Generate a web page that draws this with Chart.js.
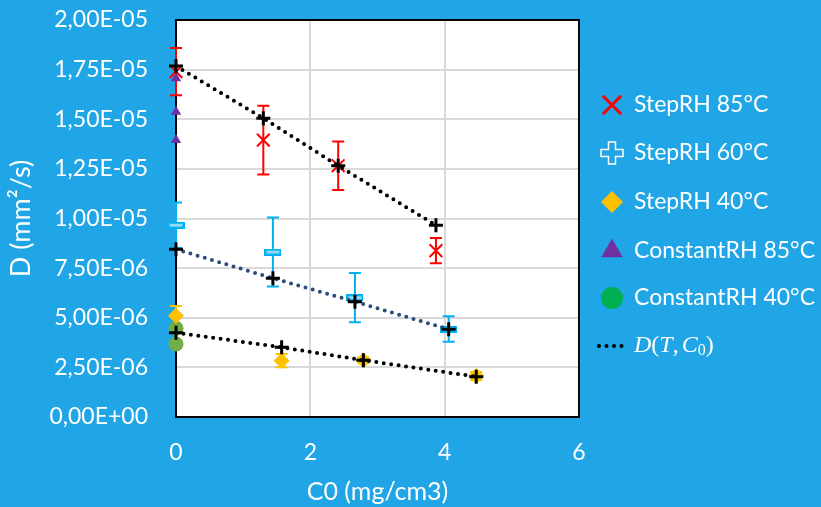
<!DOCTYPE html>
<html>
<head>
<meta charset="utf-8">
<script src="https://cdn.jsdelivr.net/npm/chart.js@4.4.1/dist/chart.umd.min.js"></script>
<style>
  html, body { margin: 0; padding: 0; background: #20a5e6; }
  #wrap { position: relative; width: 821px; height: 507px; }
</style>
</head>
<body>
<div id="wrap"><canvas id="chart"></canvas></div>
<script>
// StepRH series: C0 (mg/cm3), D (mm²/s) and its error
const c0Step85 = [0, 1.30, 2.415, 3.87]
const dStep85 = [1.74e-5, 1.395e-5, 1.266e-5, 8.38e-6]
const errStep85 = [1.19e-6, 1.73e-6, 1.22e-6, 6.4e-7]

const c0Step60 = [0, 1.443, 2.664, 4.06]
const dStep60 = [9.66e-6, 8.31e-6, 6.01e-6, 4.43e-6]
const errStep60 = [1.14e-6, 1.74e-6, 1.24e-6, 6.4e-7]

const c0Step40 = [0, 1.573, 2.79, 4.47]
const dStep40 = [5.10e-6, 2.84e-6, 2.86e-6, 2.07e-6]
const errStep40 = [4.9e-7, 3.3e-7, 1.5e-7, 2.0e-7]

// ConstantRH series (all at C0 = 0)
const c0Const85 = [0, 0, 0]
const dConst85 = [1.706e-5, 1.538e-5, 1.395e-5]
const c0Const40 = [0, 0]
const dConst40 = [4.47e-6, 3.68e-6]

// model D(T, C0)
const dFit85 = [1.768e-5, 1.505e-5, 1.266e-5, 9.66e-6]
const dFit60 = [8.45e-6, 6.99e-6, 5.81e-6, 4.42e-6]
const dFit40 = [4.25e-6, 3.51e-6, 2.86e-6, 2.03e-6]

const xTicks = [0, 2, 4, 6]
const yMax = 2e-5
const yStep = 2.5e-6

const BG = '#20a5e6'
const RED = '#ff0000'
const CYAN = '#00b0f0'
const GOLD = '#ffc000'
const PURPLE = '#7030a0'
const OLIVE = '#70ad47'
const GREEN = '#00b050'
const NAVY = '#2e4d7f'

const pts = (xs, ys) => xs.map((x, i) => ({ x, y: ys[i] }))

// "1,75E-05" style tick labels
function sciComma(v) {
  const [m, e] = Number(v).toExponential(2).split('e')
  const n = parseInt(e, 10)
  return m.replace('.', ',') + 'E' + (n < 0 ? '-' : '+') + String(Math.abs(n)).padStart(2, '0')
}

// short dash marker for the 60°C points
const dashMark = document.createElement('canvas')
dashMark.width = 17
dashMark.height = 7
{
  const d = dashMark.getContext('2d')
  d.fillStyle = '#8fd8f5'
  d.strokeStyle = CYAN
  d.lineWidth = 2
  d.fillRect(1, 1, 15, 5)
  d.strokeRect(1, 1, 15, 5)
}

const markerSet = (color, style, radius, width) => ({
  pointStyle: style,
  pointRadius: radius,
  pointHoverRadius: radius,
  pointBorderWidth: width,
  pointBackgroundColor: color,
  pointBorderColor: color,
  showLine: false,
  clip: false,
  order: 1,
})

const fitSet = (xs, ys, color) => ({
  label: 'D(T, C0)',
  data: pts(xs, ys),
  showLine: true,
  borderColor: color,
  borderWidth: 4,
  borderDash: [0, 7.5],
  borderCapStyle: 'round',
  pointStyle: 'cross',
  pointRadius: 7,
  pointHoverRadius: 7,
  pointBorderWidth: 3,
  pointBorderColor: '#000',
  pointBackgroundColor: '#000',
  clip: false,
  order: 0,
})

const panel = {
  id: 'panel',
  beforeDraw(chart) {
    const { ctx, chartArea: a } = chart
    ctx.save()
    ctx.fillStyle = BG
    ctx.fillRect(0, 0, chart.width, chart.height)
    ctx.fillStyle = '#fff'
    ctx.fillRect(a.left, a.top, a.right - a.left, a.bottom - a.top)
    ctx.restore()
  },
  beforeDatasetsDraw(chart) {
    const { ctx, chartArea: a, scales } = chart
    ctx.save()
    ctx.strokeStyle = '#000'
    ctx.lineWidth = 2
    ctx.strokeRect(a.left, a.top, a.right - a.left, a.bottom - a.top)
    // error bars under the markers
    chart.data.datasets.forEach((ds) => {
      if (!ds.errorBars) return
      ctx.strokeStyle = ds.pointBorderColor
      ctx.lineWidth = 2
      ds.data.forEach((p, i) => {
        const e = ds.errorBars[i]
        const x = scales.x.getPixelForValue(p.x)
        const y1 = scales.y.getPixelForValue(p.y + e)
        const y2 = scales.y.getPixelForValue(p.y - e)
        ctx.beginPath()
        ctx.moveTo(x, y1); ctx.lineTo(x, y2)
        ctx.moveTo(x - 6, y1); ctx.lineTo(x + 6, y1)
        ctx.moveTo(x - 6, y2); ctx.lineTo(x + 6, y2)
        ctx.stroke()
      })
    })
    ctx.restore()
  },
  afterDraw(chart) {
    const { ctx } = chart
    const draw = Chart.helpers.drawPoint
    const mx = 612, tx = 634
    const rows = [105, 153, 202, 251, 298, 346]
    ctx.save()
    ctx.textBaseline = 'middle'
    ctx.textAlign = 'left'

    ctx.strokeStyle = RED
    ctx.fillStyle = RED
    draw(ctx, { pointStyle: 'crossRot', radius: 13, borderWidth: 3, rotation: 0 }, mx, rows[0])

    // hollow plus
    const y = rows[1], a = 3.5, b = 11
    ctx.beginPath()
    ctx.moveTo(mx - a, y - b); ctx.lineTo(mx + a, y - b); ctx.lineTo(mx + a, y - a)
    ctx.lineTo(mx + b, y - a); ctx.lineTo(mx + b, y + a); ctx.lineTo(mx + a, y + a)
    ctx.lineTo(mx + a, y + b); ctx.lineTo(mx - a, y + b); ctx.lineTo(mx - a, y + a)
    ctx.lineTo(mx - b, y + a); ctx.lineTo(mx - b, y - a); ctx.lineTo(mx - a, y - a)
    ctx.closePath()
    ctx.strokeStyle = '#fff'
    ctx.lineWidth = 1.5
    ctx.stroke()

    ctx.fillStyle = GOLD
    ctx.strokeStyle = GOLD
    draw(ctx, { pointStyle: 'rectRot', radius: 11, borderWidth: 0, rotation: 0 }, mx, rows[2])
    ctx.fillStyle = PURPLE
    ctx.strokeStyle = PURPLE
    draw(ctx, { pointStyle: 'triangle', radius: 12.5, borderWidth: 0, rotation: 0 }, mx, rows[3])
    ctx.fillStyle = GREEN
    ctx.strokeStyle = GREEN
    draw(ctx, { pointStyle: 'circle', radius: 11, borderWidth: 0, rotation: 0 }, mx, rows[4])

    ctx.beginPath()
    ctx.setLineDash([0, 7.5])
    ctx.lineCap = 'round'
    ctx.lineWidth = 4
    ctx.strokeStyle = '#000'
    ctx.moveTo(599, rows[5]); ctx.lineTo(627, rows[5])
    ctx.stroke()
    ctx.setLineDash([])

    ctx.fillStyle = '#fff'
    ctx.font = '23px Lato'
    ;['StepRH 85°C', 'StepRH 60°C', 'StepRH 40°C', 'ConstantRH 85°C', 'ConstantRH 40°C']
      .forEach((t, i) => ctx.fillText(t, tx, rows[i]))

    // D(T, C0) in math italics
    const parts = [
      ['D', 'italic', 24, 0], ['(', '', 24, 0], ['T', 'italic', 24, 0], [',', '', 24, 0],
      [' ', '', 12, 0], ['C', 'italic', 24, 0], ['0', '', 16, 5], [')', '', 24, 0],
    ]
    let px = tx
    parts.forEach(([s, st, sz, dy]) => {
      ctx.font = `${st} ${sz}px "Liberation Serif"`.trim()
      ctx.fillText(s, px, rows[5] + dy)
      px += ctx.measureText(s).width
    })
    ctx.restore()
  },
}

Chart.defaults.font.family = 'Lato'
Chart.defaults.font.size = 23
Chart.defaults.color = '#fff'

new Chart(document.getElementById('chart'), {
  type: 'scatter',
  data: {
    datasets: [
      { label: 'StepRH 85°C', data: pts(c0Step85, dStep85), errorBars: errStep85, ...markerSet(RED, 'crossRot', 9, 2) },
      { label: 'StepRH 60°C', data: pts(c0Step60, dStep60), errorBars: errStep60, ...markerSet(CYAN, dashMark, 8, 2) },
      { label: 'StepRH 40°C', data: pts(c0Step40, dStep40), errorBars: errStep40, ...markerSet(GOLD, 'rectRot', 8, 0) },
      { label: 'ConstantRH 85°C', data: pts(c0Const85, dConst85), ...markerSet(PURPLE, 'triangle', 6, 0) },
      { label: 'ConstantRH 40°C', data: pts(c0Const40, dConst40), ...markerSet(OLIVE, 'circle', 7.5, 0) },
      fitSet(c0Step85, dFit85, '#000'),
      fitSet(c0Step60, dFit60, NAVY),
      fitSet(c0Step40, dFit40, '#000'),
    ],
  },
  options: {
    responsive: true,
    maintainAspectRatio: false,
    animation: false,
    layout: { padding: { top: 20, right: 242, left: 0, bottom: 0 } },
    plugins: {
      legend: { display: false },
      tooltip: { enabled: false },
    },
    scales: {
      x: {
        type: 'linear',
        min: xTicks[0],
        max: xTicks[xTicks.length - 1],
        afterBuildTicks: (s) => { s.ticks = xTicks.map((v) => ({ value: v })) },
        ticks: { padding: 22 },
        grid: { color: '#d9d9d9', lineWidth: 2, drawTicks: false },
        border: { display: false },
        title: { display: true, text: 'C0 (mg/cm3)', padding: 0, font: { size: 25 } },
        afterFit: (s) => { s.height = 90 },
      },
      y: {
        min: 0,
        max: yMax,
        ticks: { stepSize: yStep, padding: 28, callback: sciComma },
        grid: { color: '#d9d9d9', lineWidth: 2, drawTicks: false },
        border: { display: false },
        title: { display: true, text: 'D (mm²/s)', padding: 5, font: { size: 27 } },
        afterFit: (s) => {
          s.width = 176
          s.paddingTop = 0
          s.paddingBottom = 0
        },
      },
    },
  },
  plugins: [panel],
})
</script>
</body>
</html>
